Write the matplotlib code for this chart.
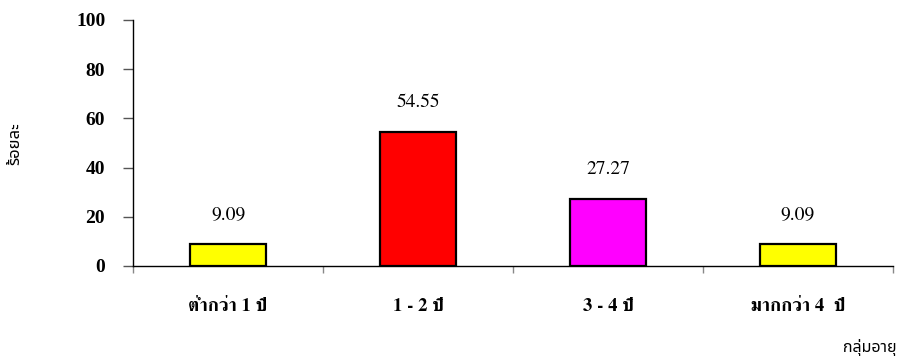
import matplotlib
matplotlib.use("Agg")
import matplotlib.pyplot as plt

# age groups vs percentage
categories = ['ต่ำกว่า 1 ปี', '1 - 2 ปี', '3 - 4 ปี', 'มากกว่า 4  ปี']
values = [9.09, 54.55, 27.27, 9.09]
bar_colors = ['#FFFF00', '#FF0000', '#FF00FF', '#FFFF00']
y_ticks = [0, 20, 40, 60, 80, 100]

serif_thai = ['FreeSerif', 'Noto Serif Thai', 'DejaVu Serif']
sans_thai = ['Noto Sans Thai', 'DejaVu Sans']

fig = plt.figure(figsize=(9.06, 3.58), dpi=100)
ax = fig.add_axes([133 / 906, 1 - 266 / 358, 760 / 906, 246 / 358])

x = list(range(len(categories)))
ax.bar(x, values, width=0.4, color=bar_colors, edgecolor='black', linewidth=1.6, zorder=3)

for xi, v in zip(x, values):
    ax.annotate(f'{v:.2f}', (xi, v), xytext=(0, 15), textcoords='offset points',
                ha='center', va='bottom', fontsize=14, family=serif_thai)

ax.set_xlim(-0.5, len(categories) - 0.5)
ax.set_ylim(0, 100)

ax.set_yticks(y_ticks)
ax.set_yticklabels([str(t) for t in y_ticks], fontsize=14, fontweight='bold',
                   family=['Liberation Serif'])
ax.tick_params(axis='y', direction='out', length=7, width=1, color='#555555', pad=13)

# boundary ticks on x, labels at the centres
ax.set_xticks([i - 0.5 for i in range(len(categories) + 1)])
ax.set_xticklabels([])
ax.tick_params(axis='x', which='major', direction='out', length=5, width=1, color='#888888')
ax.set_xticks(x, minor=True)
ax.set_xticklabels(categories, minor=True, fontsize=13.5, fontweight='bold', family=serif_thai)
ax.tick_params(axis='x', which='minor', length=0, pad=23)

for side in ['top', 'right']:
    ax.spines[side].set_visible(False)
ax.spines['left'].set_linewidth(1.0)
ax.spines['bottom'].set_linewidth(1.0)

fig.text(15 / 906, 1 - 144 / 358, 'ร้อยละ', rotation=90, ha='center', va='center',
         fontsize=12, family=sans_thai)
fig.text(896 / 906, 1 - 347 / 358, 'กลุ่มอายุ', ha='right', va='center',
         fontsize=11.5, family=sans_thai)

fig.savefig('out.png', dpi=100)
